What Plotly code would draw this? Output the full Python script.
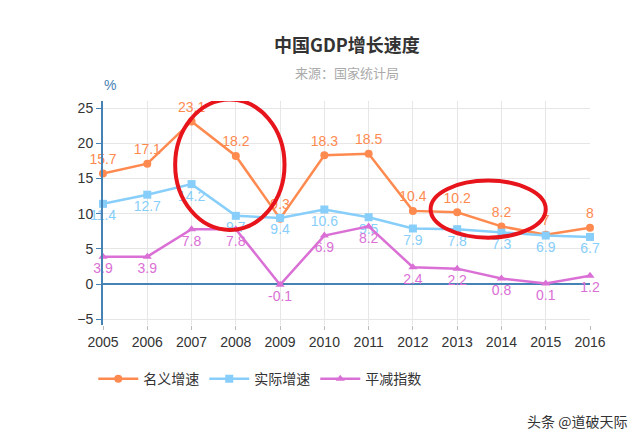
import plotly.graph_objects as go

years = [2005, 2006, 2007, 2008, 2009, 2010, 2011, 2012, 2013, 2014, 2015, 2016]
nominal = [15.7, 17.1, 23.1, 18.2, 9.3, 18.3, 18.5, 10.4, 10.2, 8.2, 7, 8]
real = [11.4, 12.7, 14.2, 9.7, 9.4, 10.6, 9.5, 7.9, 7.8, 7.3, 6.9, 6.7]
deflator = [3.9, 3.9, 7.8, 7.8, -0.1, 6.9, 8.2, 2.4, 2.2, 0.8, 0.1, 1.2]
tick_vals = [-5, 0, 5, 10, 15, 20, 25]

FONT = "Noto Sans CJK SC"
NUMFONT = "Liberation Sans"
fig = go.Figure()
fig.add_trace(go.Scatter(x=years, y=nominal, name="名义增速", mode="lines+markers+text",
    line=dict(color="#ff8a50", width=2.5), marker=dict(size=8, color="#ff8a50"),
    text=[str(v) for v in nominal], textposition="top center", cliponaxis=False,
    textfont=dict(color="#ff8a50", size=14, family=NUMFONT)))
fig.add_trace(go.Scatter(x=years, y=real, name="实际增速", mode="lines+markers+text",
    line=dict(color="#87cefa", width=2.5), marker=dict(size=8, symbol="square", color="#87cefa"),
    text=[str(v) for v in real], textposition="bottom center", cliponaxis=False,
    textfont=dict(color="#87cefa", size=14, family=NUMFONT)))
fig.add_trace(go.Scatter(x=years, y=deflator, name="平减指数", mode="lines+markers+text",
    line=dict(color="#da70d6", width=2.5), marker=dict(size=8, symbol="triangle-up", color="#da70d6"),
    text=[str(v) for v in deflator], textposition="bottom center", cliponaxis=False,
    textfont=dict(color="#da70d6", size=14, family=NUMFONT)))

fig.update_layout(
    width=641, height=445, plot_bgcolor="white", paper_bgcolor="white",
    font=dict(family=FONT, color="#333"),
    margin=dict(l=95, r=59, t=93, b=128, autoexpand=False),
    showlegend=True,
    legend=dict(orientation="h", x=-0.02, xref="paper", y=-0.17, yanchor="top",
                font=dict(size=14, color="#333"), itemwidth=40),
    xaxis=dict(tickmode="array", tickvals=years, range=[2005, 2016],
               showgrid=True, gridcolor="#e6e6e6", zeroline=False, showline=False,
               tickfont=dict(size=14, color="#333", family=NUMFONT), ticks="outside", ticklen=4, tickcolor="#bbb"),
    yaxis=dict(tickvals=tick_vals, range=[-5.8, 26], showgrid=True, gridcolor="#e6e6e6",
               zeroline=True, zerolinecolor="#4682b4", zerolinewidth=2,
               showline=True, linecolor="#4682b4", linewidth=2,
               ticks="outside", ticklen=5, tickcolor="#4682b4",
               tickfont=dict(size=14, color="#333", family=NUMFONT)),
)
fig.add_annotation(text="<b>中国GDP增长速度</b>", xref="paper", yref="paper", x=0.5, y=1.0,
                   yshift=72, showarrow=False, font=dict(size=18, color="#333"))
fig.add_annotation(text="来源：国家统计局", xref="paper", yref="paper", x=0.5, y=1.0,
                   yshift=40, showarrow=False, font=dict(size=13, color="#aaa"))
fig.add_annotation(text="%", xref="paper", yref="paper", x=0.0, y=1.0, xshift=-1,
                   yshift=26, showarrow=False, font=dict(size=14, color="#4682b4", family=NUMFONT))
fig.add_annotation(text="头条 @道破天际", xref="paper", yref="paper", x=1.08, y=-0.43,
                   xanchor="right", yanchor="middle", showarrow=False, font=dict(size=14, color="#333"))
fig.add_shape(type="circle", xref="x", yref="y", x0=2006.63, x1=2009.1, y0=7.7, y1=26.2,
              line=dict(color="#e8141c", width=4))
fig.add_shape(type="circle", xref="x", yref="y", x0=2012.4, x1=2015.0, y0=6.6, y1=14.7,
              line=dict(color="#e8141c", width=4))
fig.write_html("out.html")
